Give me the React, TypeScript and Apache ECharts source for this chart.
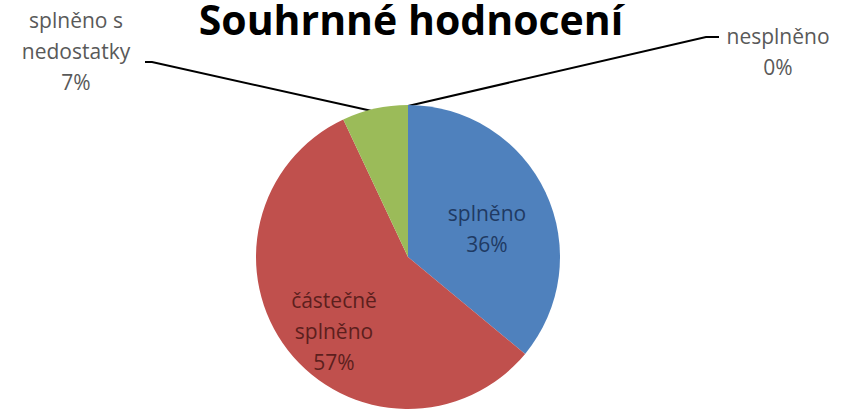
import React, { useEffect, useRef } from "react";
import * as echarts from "echarts";

const TITLE = "Souhrnné hodnocení";
const categories = ["splněno", "částečně\nsplněno", "splněno s\nnedostatky", "nesplněno"];
const percents = [36, 57, 7, 0];
const colors = ["#4f81bd", "#c0504d", "#9bbb59", "#8064a2"];
const labelColors = ["#1f3a63", "#5c1f1d", "#595959", "#595959"];

// label anchor positions (layout only)
const labelPos = [
  { x: 487, y: 228 },
  { x: 334, y: 331 },
  { x: 76, y: 51 },
  { x: 778, y: 51 },
];
const linePts: Record<number, number[][]> = {
  2: [[145, 62], [152, 62], [372, 111]],
  3: [[719, 37], [706, 37], [408, 106]],
};

export default function App() {
  const ref = useRef<HTMLDivElement>(null);
  useEffect(() => {
    if (!ref.current) return;
    const chart = echarts.init(ref.current, null, { renderer: "svg" });
    chart.setOption({
      animation: false,
      backgroundColor: "#ffffff",
      title: {
        text: TITLE,
        left: 411,
        textAlign: "center",
        top: 1,
        padding: 0,
        textStyle: {
          fontFamily: "Open Sans",
          fontWeight: "bold",
          fontSize: 41,
          lineHeight: 36,
          color: "#000000",
        },
      },
      series: [
        {
          type: "pie",
          center: [408, 257],
          radius: 152,
          startAngle: 90,
          clockwise: true,
          minAngle: 0,
          avoidLabelOverlap: false,
          stillShowZeroSum: true,
          itemStyle: { borderWidth: 0 },
          data: categories.map((name, i) => ({
            name,
            value: percents[i],
            itemStyle: { color: colors[i] },
            label: {
              show: true,
              position: i < 2 ? "inside" : "outside",
              color: labelColors[i],
            },
            labelLine: { show: i >= 2, lineStyle: { color: "#000000", width: 2 } },
          })),
          label: {
            fontFamily: "Open Sans",
            fontSize: 21,
            lineHeight: 31,
            align: "center",
            formatter: (p: any) => `${p.name}\n${Math.round(p.percent)}%`,
          },
          labelLayout: (p: any) => {
            const i = p.dataIndex;
            const pos = labelPos[i];
            const res: any = {
              x: pos.x,
              y: pos.y,
              align: "center",
              verticalAlign: "middle",
            };
            if (linePts[i]) res.labelLinePoints = linePts[i];
            return res;
          },
        },
      ],
    });
    return () => chart.dispose();
  }, []);
  return (
    <div
      ref={ref}
      style={{ position: "absolute", left: 0, top: 0, width: 843, height: 410 }}
    />
  );
}
